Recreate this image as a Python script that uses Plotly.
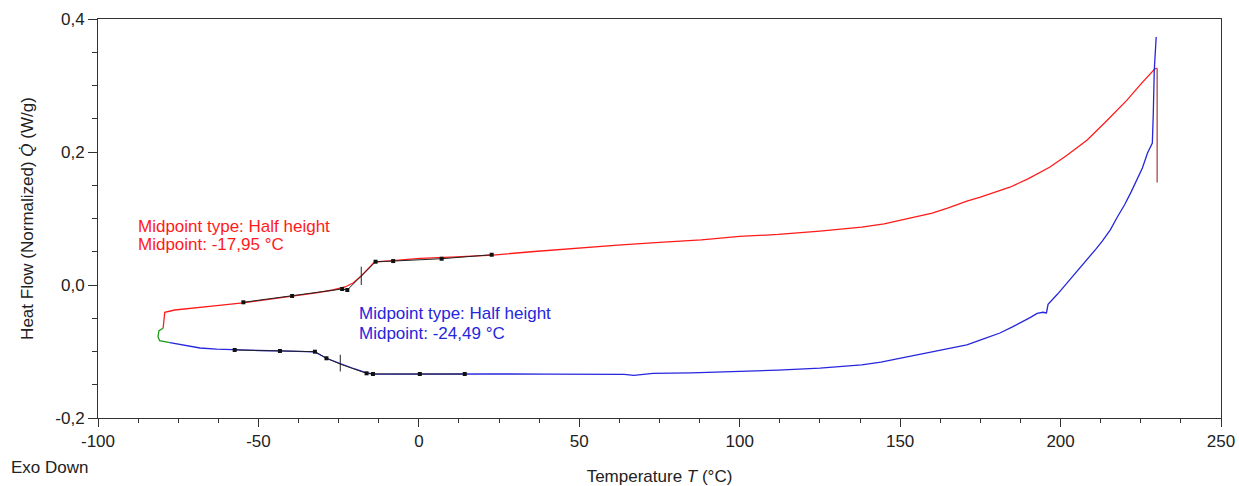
import plotly.graph_objects as go

# ---------------- data ----------------
red_T = [-79.7, -79.5, -79.2, -76.1, -70, -63, -54.9, -47, -39.6, -32, -26.8, -23.0, -20.5,
         -17.9, -15.5, -13.8, -10, -5, 0.3, 10, 23.1, 35, 50, 62, 75, 88, 100, 112, 125, 138,
         145, 150, 155, 160, 165, 170.8, 175, 180, 184.2, 190, 196.7, 202, 208.3, 214, 220.7,
         225, 229.4, 230.0]
red_HF = [-0.065, -0.055, -0.041, -0.0376, -0.035, -0.031, -0.027, -0.022, -0.0175, -0.012,
          -0.0075, -0.003, 0.003, 0.014, 0.026, 0.0346, 0.036, 0.038, 0.040, 0.042, 0.045,
          0.050, 0.056, 0.060, 0.064, 0.068, 0.073, 0.076, 0.081, 0.087, 0.092, 0.097, 0.102,
          0.108, 0.116, 0.126, 0.132, 0.140, 0.147, 0.160, 0.1774, 0.195, 0.218, 0.245, 0.278,
          0.302, 0.325, 0.326]

green_T = [-79.7, -81.0, -81.3, -80.8, -77.6]
green_HF = [-0.065, -0.0687, -0.0777, -0.0838, -0.0868]

blue_T = [-77.6, -73, -68.2, -63, -57.4, -50, -43.3, -37, -32.4, -28.8, -24.3, -20.0, -16.3,
          -14.3, -8, 0.3, 14.3, 25, 40, 50, 60, 64, 67, 70, 73, 85, 100, 112, 125, 132, 138,
          144, 150, 155, 160, 165, 170.8, 176, 181.1, 185, 188, 190.5, 192.7, 194.5, 195.6,
          196.1, 199, 202, 205, 208.3, 211, 213, 215.5, 217.7, 220, 222, 224, 225.5, 227.1,
          228.6, 228.9, 229.2, 229.8]
blue_HF = [-0.0868, -0.091, -0.0947, -0.0965, -0.0977, -0.0985, -0.0992, -0.0998, -0.1007,
           -0.1102, -0.1188, -0.1263, -0.1323, -0.1338, -0.134, -0.1338, -0.1338, -0.1338,
           -0.134, -0.1338, -0.1335, -0.1345, -0.136, -0.1345, -0.133, -0.132, -0.130,
           -0.128, -0.125, -0.1225, -0.120, -0.116, -0.110, -0.106, -0.101, -0.096, -0.090,
           -0.081, -0.0722, -0.063, -0.056, -0.049, -0.0426, -0.041, -0.042, -0.029, -0.014,
           0.003, 0.019, 0.0376, 0.054, 0.066, 0.083, 0.1023, 0.121, 0.140, 0.160, 0.176,
           0.1985, 0.2135, 0.258, 0.323, 0.373]

spike_T = [230.1, 230.1]
spike_HF = [0.326, 0.154]

# tangent (analysis) lines
red_tan_T = [-54.7, -39.5, -23.9, -22.3, -17.9, -13.5, -8.0, 7.1, 22.7]
red_tan_HF = [-0.026, -0.0165, -0.006, -0.0075, 0.014, 0.035, 0.036, 0.0395, 0.0455]
blue_tan_T = [-57.4, -43.3, -32.4, -28.8, -24.5, -16.3, -14.3, 0.3, 14.3]
blue_tan_HF = [-0.0977, -0.0992, -0.1003, -0.1102, -0.119, -0.1328, -0.1338, -0.1338, -0.1338]
red_dot_T = [-54.7, -39.5, -23.9, -22.3, -13.5, -8.0, 7.1, 22.7]
red_dot_HF = [-0.026, -0.0165, -0.006, -0.0075, 0.035, 0.036, 0.0395, 0.0455]
blue_dot_T = [-57.4, -43.3, -32.4, -28.8, -16.3, -14.3, 0.3, 14.3]
blue_dot_HF = [-0.0977, -0.0992, -0.1003, -0.1102, -0.1328, -0.1338, -0.1338, -0.1338]

red_mid = -17.95
red_mid_HF = [0.0, 0.0275]
blue_mid = -24.49
blue_mid_HF = [-0.105, -0.130]

x_ticks = [-100, -50, 0, 50, 100, 150, 200, 250]
x_ticktext = ["-100", "-50", "0", "50", "100", "150", "200", "250"]
y_ticks = [-0.2, 0.0, 0.2, 0.4]
y_ticktext = ["-0,2", "0,0", "0,2", "0,4"]

red_text = ["Midpoint type: Half height", "Midpoint: -17,95 °C"]
blue_text = ["Midpoint type: Half height", "Midpoint: -24,49 °C"]

RED = "#ff1a1a"
BLUE = "#2626dc"
FONT = "Liberation Sans, Arial, sans-serif"
FS = 17

fig = go.Figure()
fig.add_trace(go.Scatter(x=red_T, y=red_HF, mode="lines", line=dict(color=RED, width=1.3)))
fig.add_trace(go.Scatter(x=blue_T, y=blue_HF, mode="lines", line=dict(color=BLUE, width=1.3)))
fig.add_trace(go.Scatter(x=green_T, y=green_HF, mode="lines", line=dict(color="#1a9a1a", width=1.3)))
fig.add_trace(go.Scatter(x=spike_T, y=spike_HF, mode="lines", line=dict(color="#a84848", width=1.3)))
fig.add_trace(go.Scatter(x=red_tan_T, y=red_tan_HF, mode="lines", line=dict(color="#222222", width=1)))
fig.add_trace(go.Scatter(x=blue_tan_T, y=blue_tan_HF, mode="lines", line=dict(color="#222222", width=1)))
fig.add_trace(go.Scatter(x=red_dot_T, y=red_dot_HF, mode="markers",
                         marker=dict(color="#111111", size=4, symbol="square")))
fig.add_trace(go.Scatter(x=blue_dot_T, y=blue_dot_HF, mode="markers",
                         marker=dict(color="#111111", size=4, symbol="square")))
fig.add_trace(go.Scatter(x=[red_mid, red_mid], y=red_mid_HF, mode="lines",
                         line=dict(color="#222222", width=1)))
fig.add_trace(go.Scatter(x=[blue_mid, blue_mid], y=blue_mid_HF, mode="lines",
                         line=dict(color="#222222", width=1)))

for txt, yy in zip(red_text, [0.0887, 0.0602]):
    fig.add_annotation(x=-88.1, y=yy, xref="x", yref="y", xanchor="left", yanchor="middle",
                       showarrow=False, text=txt, font=dict(family=FONT, size=FS, color=RED))
for txt, yy in zip(blue_text, [-0.0436, -0.0722]):
    fig.add_annotation(x=-19.2, y=yy, xref="x", yref="y", xanchor="left", yanchor="middle",
                       showarrow=False, text=txt, font=dict(family=FONT, size=FS, color=BLUE))
fig.add_annotation(x=-0.0795, y=-0.125, xref="paper", yref="paper", xanchor="left",
                   yanchor="middle", showarrow=False, text="Exo Down",
                   font=dict(family=FONT, size=FS, color="#222222"))

axis_common = dict(showgrid=False, zeroline=False, showline=True, linecolor="#333333",
                   linewidth=1, mirror=True, ticks="outside", tickcolor="#333333",
                   tickfont=dict(family=FONT, size=FS, color="#222222"))

fig.update_xaxes(range=[-100, 250], tickmode="array", tickvals=x_ticks, ticktext=x_ticktext,
                 ticklen=8,
                 minor=dict(ticks="outside", tickmode="linear", tick0=-100, dtick=12.5,
                            ticklen=4, tickcolor="#333333"),
                 title=dict(text="Temperature <i>T</i> (°C)",
                            font=dict(family=FONT, size=FS, color="#222222"), standoff=22),
                 **axis_common)
fig.update_yaxes(range=[-0.2, 0.4], tickmode="array", tickvals=y_ticks, ticktext=y_ticktext,
                 ticklen=9,
                 minor=dict(ticks="outside", tickmode="linear", tick0=-0.2, dtick=0.05,
                            ticklen=5, tickcolor="#333333"),
                 title=dict(text="Heat Flow (Normalized) <i>Q̇</i> (W/g)",
                            font=dict(family=FONT, size=FS, color="#222222"), standoff=17),
                 **axis_common)

fig.update_layout(width=1239, height=486, showlegend=False,
                  plot_bgcolor="white", paper_bgcolor="white",
                  margin=dict(l=98, r=18, t=19, b=68, autoexpand=False),
                  font=dict(family=FONT, size=FS, color="#222222"))

fig.write_html("out.html")
